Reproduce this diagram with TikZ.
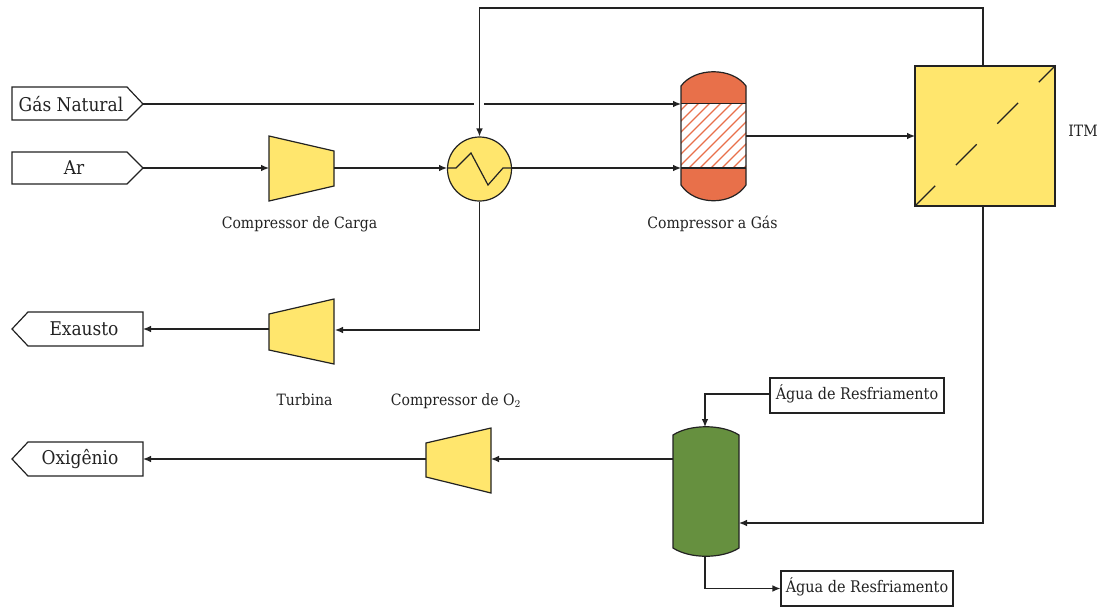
\documentclass[tikz,border=0pt]{standalone}
\usepackage{fontspec}
\setmainfont{DejaVu Serif Condensed}
\usetikzlibrary{arrows.meta}
\definecolor{eqyellow}{HTML}{FFE66D}
\definecolor{eqorange}{HTML}{E8704A}
\definecolor{eqgreen}{HTML}{66903F}
\definecolor{ink}{HTML}{222222}
\tikzset{
  x=0.75pt,y=-0.75pt,
  equip/.style={draw=ink,line width=0.9pt,line join=miter},
  flow/.style={draw=ink,line width=0.9pt,-{Latex[length=6pt,width=5pt]}},
  plain/.style={draw=ink,line width=0.9pt},
  tagtext/.style={inner sep=0pt,font=\fontsize{14.2}{16}\selectfont,text=ink},
  lbl/.style={inner sep=0pt,font=\fontsize{11.7}{14}\selectfont,text=ink},
  boxed/.style={draw=ink,line width=0.9pt,fill=white,inner sep=0pt,font=\fontsize{12}{14}\selectfont,text=ink,minimum height=26.25pt,text height=9pt,text depth=2.5pt}
}
\begin{document}
\begin{tikzpicture}
\useasboundingbox (0,0) rectangle (1105,607);
% tags
\draw[equip] (12,87) -- (127,87) -- (143,104) -- (127,120) -- (12,120) -- cycle;
\draw[equip] (12,152) -- (127,152) -- (143,168) -- (127,184) -- (12,184) -- cycle;
\draw[equip] (143,312) -- (28,312) -- (12,329) -- (28,346) -- (143,346) -- cycle;
\draw[equip] (143,442) -- (28,442) -- (12,459) -- (28,476) -- (143,476) -- cycle;
\node[tagtext] (gas) at (71,104) {Gás Natural};
\node[tagtext] (ar) at (74,168) {Ar};
\node[tagtext] (exa) at (84,329) {Exausto};
\node[tagtext] (oxi) at (80,459) {Oxigênio};
\coordinate (gasout) at (143,104);
\coordinate (arout) at (143,168);
\coordinate (exain) at (143,329);
\coordinate (oxiin) at (143,459);
% compressors
\draw[equip,fill=eqyellow] (269,136) -- (334,151) -- (334,186) -- (269,201) -- cycle;
\draw[equip,fill=eqyellow] (269,314) -- (334,299) -- (334,364) -- (269,350) -- cycle;
\draw[equip,fill=eqyellow] (426,443) -- (491,428) -- (491,493) -- (426,477) -- cycle;
\coordinate (cin) at (269,168);
\coordinate (cout) at (334,168);
\coordinate (tin) at (335,330);
\coordinate (tout) at (269,329);
\coordinate (o2in) at (491,459);
\coordinate (o2out) at (426,459);
% heat exchanger
\node[circle,draw=ink,line width=0.9pt,fill=eqyellow,minimum size=48pt,inner sep=0pt] (hx) at (479.5,169) {};
\coordinate (hxw) at (447,168);
\coordinate (hxe) at (512,168);
\draw[plain] (hxw) -- (456,168) -- (471,153) -- (488,185) -- (503,168) -- (hxe);
% reactor
\fill[eqorange] (681,86) .. controls (695,67) and (732,67) .. (746,86) -- (746,103.5) -- (681,103.5) -- cycle;
\fill[eqorange] (681,185) .. controls (695,206) and (732,206) .. (746,185) -- (746,168) -- (681,168) -- cycle;
\begin{scope}
\clip (681,103.5) rectangle (746,168);
\foreach \d in {0,11,...,143}{
  \draw[eqorange,line width=1pt] (670+\d-65,175) -- (670+\d+10,100);
}
\end{scope}
\draw[plain] (681,86) .. controls (695,67) and (732,67) .. (746,86) -- (746,185) .. controls (732,206) and (695,206) .. (681,185) -- cycle;
\draw[plain] (681,103.5) -- (746,103.5);
\draw[plain] (681,168) -- (746,168);
\coordinate (rtop) at (681,104);
\coordinate (rbot) at (681,168);
\coordinate (rout) at (746,136);
% ITM
\node[draw=ink,line width=0.9pt,fill=eqyellow,minimum size=105pt,inner sep=0pt] (itm) at (985,136) {};
\draw[plain,dash pattern=on 22pt off 22pt] (itm.south west) -- (itm.north east);
\node[lbl] (itml) at (1083,131) {ITM};
\coordinate (itmtop) at (983,66);
\coordinate (itmbot) at (983,206);
\coordinate (itmin) at (915,136);
% vessel
\draw[equip,fill=eqgreen] (673,435) .. controls (690,424) and (722,424) .. (739,435) -- (739,548) .. controls (722,559) and (690,559) .. (673,548) -- cycle;
\coordinate (vtop) at (705,427);
\coordinate (vbot) at (705,556);
\coordinate (vl) at (673,459);
\coordinate (vr) at (739,523);
% boxes
\node[boxed,minimum width=130.5pt] (a1) at (857,395.5) {Água de Resfriamento};
\node[boxed,minimum width=129pt] (a2) at (867,588.5) {Água de Resfriamento};
% labels
\node[lbl] (l1) at (299.5,224) {Compressor de Carga};
\node[lbl] (l2) at (712.5,224) {Compressor a Gás};
\node[lbl] (l3) at (304.5,400) {Turbina};
\node[lbl] (l4) at (456,401) {Compressor de O$_2$};
% connectors
\draw[plain] (gasout) -- (474,104);
\draw[flow] (484,104) -- (rtop);
\draw[flow] (arout) -- (cin);
\draw[flow] (cout) -- (hxw);
\draw[flow] (hxe) -- (rbot);
\draw[flow] (rout) -- (itmin);
\draw[flow] (itmtop) -- (983,8) -| (hx.north);
\draw[flow] (hx.south) |- (tin);
\draw[flow] (tout) -- (exain);
\draw[flow] (itmbot) |- (vr);
\draw[flow] (vl) -- (o2in);
\draw[flow] (o2out) -- (oxiin);
\draw[flow] (a1.west |- 0,394) -| (vtop);
\draw[flow] (vbot) |- (a2.west);
\end{tikzpicture}
\end{document}
